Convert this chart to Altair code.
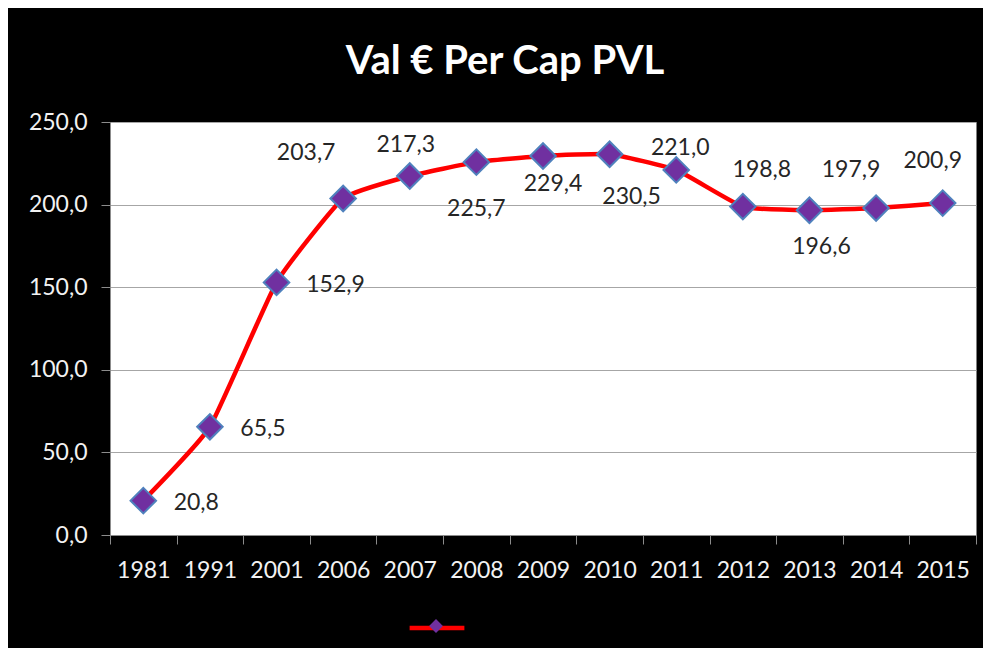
import altair as alt
import pandas as pd

# ---- data ----
years = ["1981", "1991", "2001", "2006", "2007", "2008", "2009",
         "2010", "2011", "2012", "2013", "2014", "2015"]
values = [20.8, 65.5, 152.9, 203.7, 217.3, 225.7, 229.4,
          230.5, 221.0, 198.8, 196.6, 197.9, 200.9]
y_ticks = [0, 50, 100, 150, 200, 250]
title_text = "Val € Per Cap PVL"

# label placement (pixel offsets from each marker), as in the reference
label_offsets = {
    "1981": (53, 2), "1991": (53, 2), "2001": (59, 3), "2006": (-37, -45),
    "2007": (-4, -31), "2008": (0, 47), "2009": (10, 28), "2010": (22, 43),
    "2011": (4, -22), "2012": (19, -37), "2013": (12, 37), "2014": (-25, -38),
    "2015": (-10, -42),
}

df = pd.DataFrame({"year": years, "value": values})

FONT = "Lato"
RED = "#FF0000"
PURPLE = "#7030A0"
BLUE = "#4F81BD"

x_enc = alt.X(
    "year:N", sort=years, title=None,
    scale=alt.Scale(paddingInner=0, paddingOuter=0),
    axis=alt.Axis(labelAngle=0, tickBand="extent", tickSize=9, labelPadding=15,
                  labelFontSize=23, labelColor="#F2F2F2", labelFont=FONT,
                  domainColor="#8C8C8C", tickColor="#8C8C8C", grid=False),
)
y_enc = alt.Y(
    "value:Q", title=None,
    scale=alt.Scale(domain=[0, 250], nice=False),
    axis=alt.Axis(values=y_ticks, tickSize=9, labelPadding=14,
                  labelExpr="replace(format(datum.value, '.1f'), '.', ',')",
                  labelFontSize=23, labelColor="#F2F2F2", labelFont=FONT,
                  domainColor="#8C8C8C", tickColor="#8C8C8C",
                  gridColor="#A6A6A6", gridWidth=1),
)

base = alt.Chart(df)

line = base.transform_calculate(s1="'a'").mark_line(
    interpolate="cardinal", tension=0.6, strokeWidth=4.5, strokeCap="round"
).encode(
    x=x_enc, y=y_enc,
    color=alt.Color("s1:N", scale=alt.Scale(range=[RED]),
                    legend=alt.Legend(orient="none", legendX=297, legendY=476,
                                      title=None, labelExpr="''", labelFontSize=1,
                                      symbolType="stroke", symbolStrokeWidth=4.5,
                                      symbolSize=3000, padding=0,
                                      symbolStrokeColor=RED)),
)

points = base.transform_calculate(s2="'b'").mark_point(
    filled=True, fill=PURPLE, stroke=BLUE, strokeWidth=2, size=650, opacity=1
).encode(
    x=alt.X("year:N", sort=years),
    y="value:Q",
    shape=alt.Shape("s2:N", scale=alt.Scale(range=["diamond"]),
                    legend=alt.Legend(orient="none", legendX=318, legendY=496,
                                      title=None, labelExpr="''", labelFontSize=1,
                                      symbolSize=190, padding=0,
                                      symbolFillColor=PURPLE, symbolStrokeColor=BLUE,
                                      symbolStrokeWidth=1.5, symbolOpacity=1)),
)

text_layers = []
for yr, (dx, dy) in label_offsets.items():
    text_layers.append(
        base.transform_filter(alt.datum.year == yr)
        .transform_calculate(lbl="replace(format(datum.value, '.1f'), '.', ',')")
        .mark_text(dx=dx, dy=dy, align="center", baseline="middle",
                   font=FONT, fontSize=23, color="#262626")
        .encode(x=alt.X("year:N", sort=years), y="value:Q", text="lbl:N")
    )

chart = alt.layer(line, points, *text_layers).resolve_legend(
    color="independent", shape="independent"
).properties(
    width=866, height=413,
    autosize=alt.AutoSizeParams(type="none"),
    padding={"left": 102, "top": 114, "right": 7, "bottom": 113},
    background="black",
    title=alt.TitleParams(title_text, color="white", font=FONT, fontSize=40,
                          fontWeight="bold", anchor="middle", frame="group",
                          baseline="alphabetic", offset=47, dx=-38, dy=50),
).configure_view(fill="white", stroke="transparent")

chart.save("out.html", embed_options={"renderer": "svg", "actions": False})
